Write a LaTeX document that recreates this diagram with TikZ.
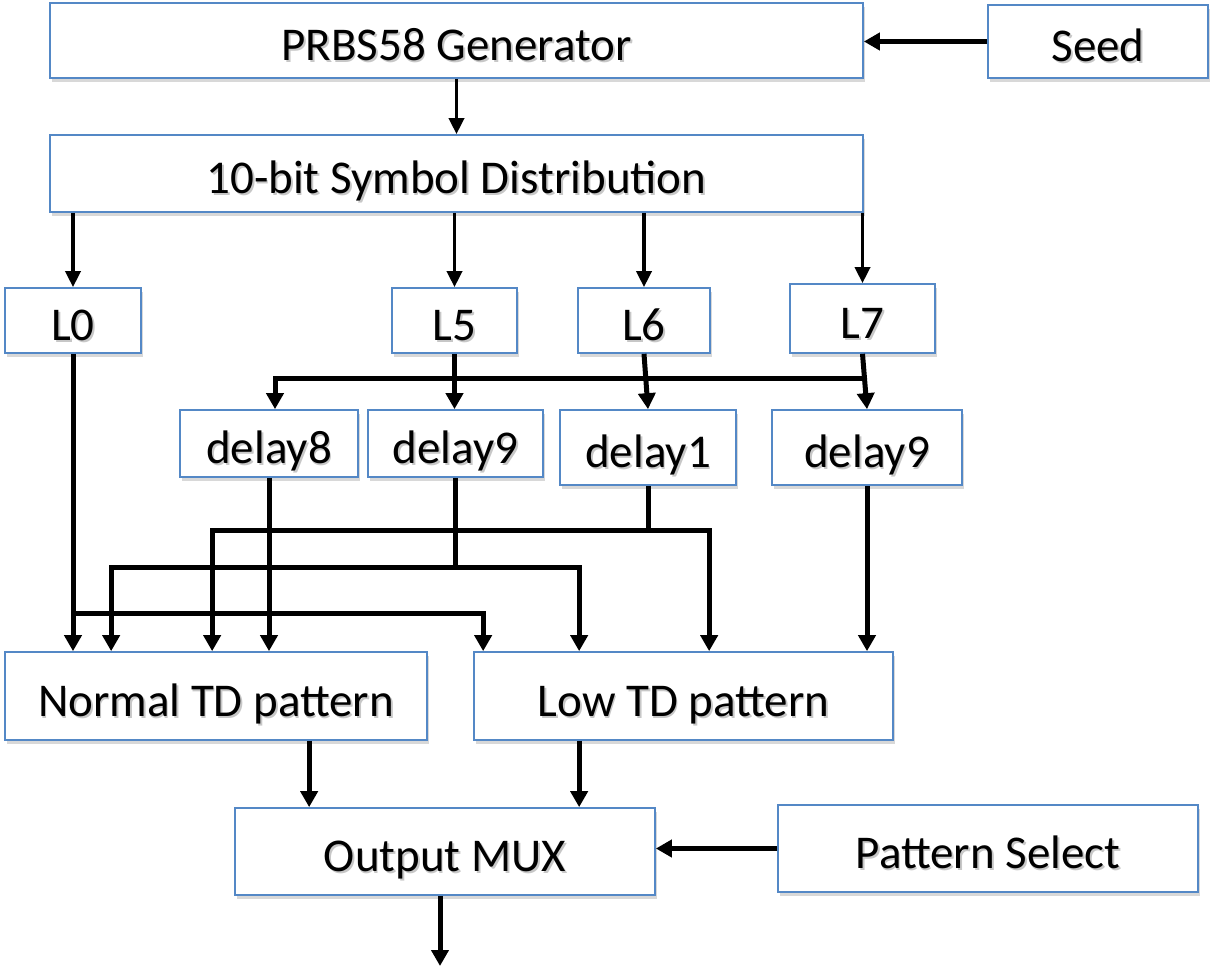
\documentclass[tikz,border=0pt]{standalone}
\usepackage{fontspec}
\setmainfont{Carlito}
\usetikzlibrary{arrows.meta,calc,shadows}
\definecolor{boxblue}{RGB}{84,136,198}
% text with a soft grey offset copy behind it
\newcommand\shadowtext[1]{\makebox[0pt][l]{\hspace{1.8pt}\raisebox{-2.2pt}{\textcolor{black!22}{#1}}}#1}
\tikzset{
  block/.style={draw=boxblue, line width=1.7pt, fill=white, inner sep=0pt,
    text height=40pt, text depth=0pt,
    drop shadow={shadow xshift=2pt, shadow yshift=-4pt, opacity=0.22, fill=black!70},
    font=\fontsize{47}{52}\selectfont},
  wire/.style={line width=5pt},
  arr/.style={wire, -{Triangle[length=16pt,width=17pt]}},
  thinarr/.style={line width=3.6pt, -{Triangle[length=16pt,width=15pt]}},
}
\begin{document}
\begin{tikzpicture}[x=1pt,y=-1pt]
\useasboundingbox (0,0) rectangle (1210,966);

% generator and distribution
\node[block, minimum width=813, minimum height=75] (gen)  at (456.5,40.5)  {\shadowtext{PRBS58 Generator}};
\node[block, minimum width=220, minimum height=73] (seed) at (1098,41.5)   {\shadowtext{Seed}};
\node[block, minimum width=813, minimum height=77] (sym)  at (456.5,173.5) {\shadowtext{10-bit Symbol Distribution}};

% lanes
\node[block, minimum width=136, minimum height=65] (L0) at (73,320.5)    {\shadowtext{L0}};
\node[block, minimum width=125, minimum height=65] (L5) at (454.5,320.5) {\shadowtext{L5}};
\node[block, minimum width=132, minimum height=65] (L6) at (644,320.5)   {\shadowtext{L6}};
\node[block, minimum width=145, minimum height=69] (L7) at (862.5,318.5) {\shadowtext{L7}};

% delays
\node[block, minimum width=178, minimum height=67] (d8)  at (269,443.5)   {\shadowtext{delay8}};
\node[block, minimum width=175, minimum height=67] (d9a) at (455.5,443.5) {\shadowtext{delay9}};
\node[block, minimum width=176, minimum height=75] (d1)  at (648,447.5)   {\shadowtext{delay1}};
\node[block, minimum width=190, minimum height=75] (d9b) at (867,447.5)   {\shadowtext{delay9}};

% patterns and output
\node[block, minimum width=422, minimum height=88] (ntd)  at (216,696)    {\shadowtext{Normal TD pattern}};
\node[block, minimum width=419, minimum height=88] (ltd)  at (683.5,696)  {\shadowtext{Low TD pattern}};
\node[block, minimum width=420, minimum height=87] (mux)  at (445,851.5)  {\shadowtext{Output MUX}};
\node[block, minimum width=420, minimum height=87] (psel) at (988,848.5)  {\shadowtext{Pattern Select}};

% top section
\draw[arr, line width=5.5pt] (seed.west) -- (seed.west -| gen.east);
\draw[thinarr] (gen.south) -- (sym.north);
\draw[thinarr] (sym.south -| L0) -- (L0.north);
\draw[thinarr] (sym.south -| L5) -- (L5.north);
\draw[thinarr] (sym.south -| L6) -- (L6.north);
\draw[thinarr] (sym.south -| L7) -- (L7.north);

% lanes into delays
\draw[arr] (L5.south) -- (L5.south |- d9a.north);
\draw[arr] (L6.south) -- (d1.north);
\draw[arr] (L7.south) -- (d9b.north);
\coordinate (j7) at ($(L7.south)!0.44!(d9b.north)$);
\draw[arr] (j7) -| ([xshift=6]d8.north);

% delay1 fan-out
\coordinate (j1) at ($(d1.south)+(0,45)$);
\draw[wire] (d1.south) -- (j1);
\draw[arr] (j1) -| ([xshift=208]ntd.north west);
\draw[arr] (j1) -| ([xshift=236]ltd.north west);

% first delay9 fan-out
\coordinate (j9) at ($(d9a.south)+(0,90)$);
\draw[wire] (d9a.south) -- (j9);
\draw[arr] (j9) -| ([xshift=107]ntd.north west);
\draw[arr] (j9) -| ([xshift=106]ltd.north west);

% delay8, L0 and second delay9
\draw[arr] (d8.south) -- (d8.south |- ntd.north);
\draw[arr] (L0.south) -- (L0.south |- ntd.north);
\coordinate (j0) at ($(L0.south)+(0,260)$);
\draw[arr] (j0) -| ([xshift=10]ltd.north west);
\draw[arr] (d9b.south) -- (d9b.south |- ltd.north);

% into the multiplexer
\coordinate (nout) at ([xshift=305]ntd.south west);
\coordinate (lout) at ([xshift=106]ltd.south west);
\draw[arr] (nout) -- (nout |- mux.north);
\draw[arr] (lout) -- (lout |- mux.north);
\draw[arr] (psel.west) -- (psel.west -| mux.east);
\coordinate (out) at (440,966);
\draw[arr] (mux.south -| out) -- (out);
\end{tikzpicture}
\end{document}
